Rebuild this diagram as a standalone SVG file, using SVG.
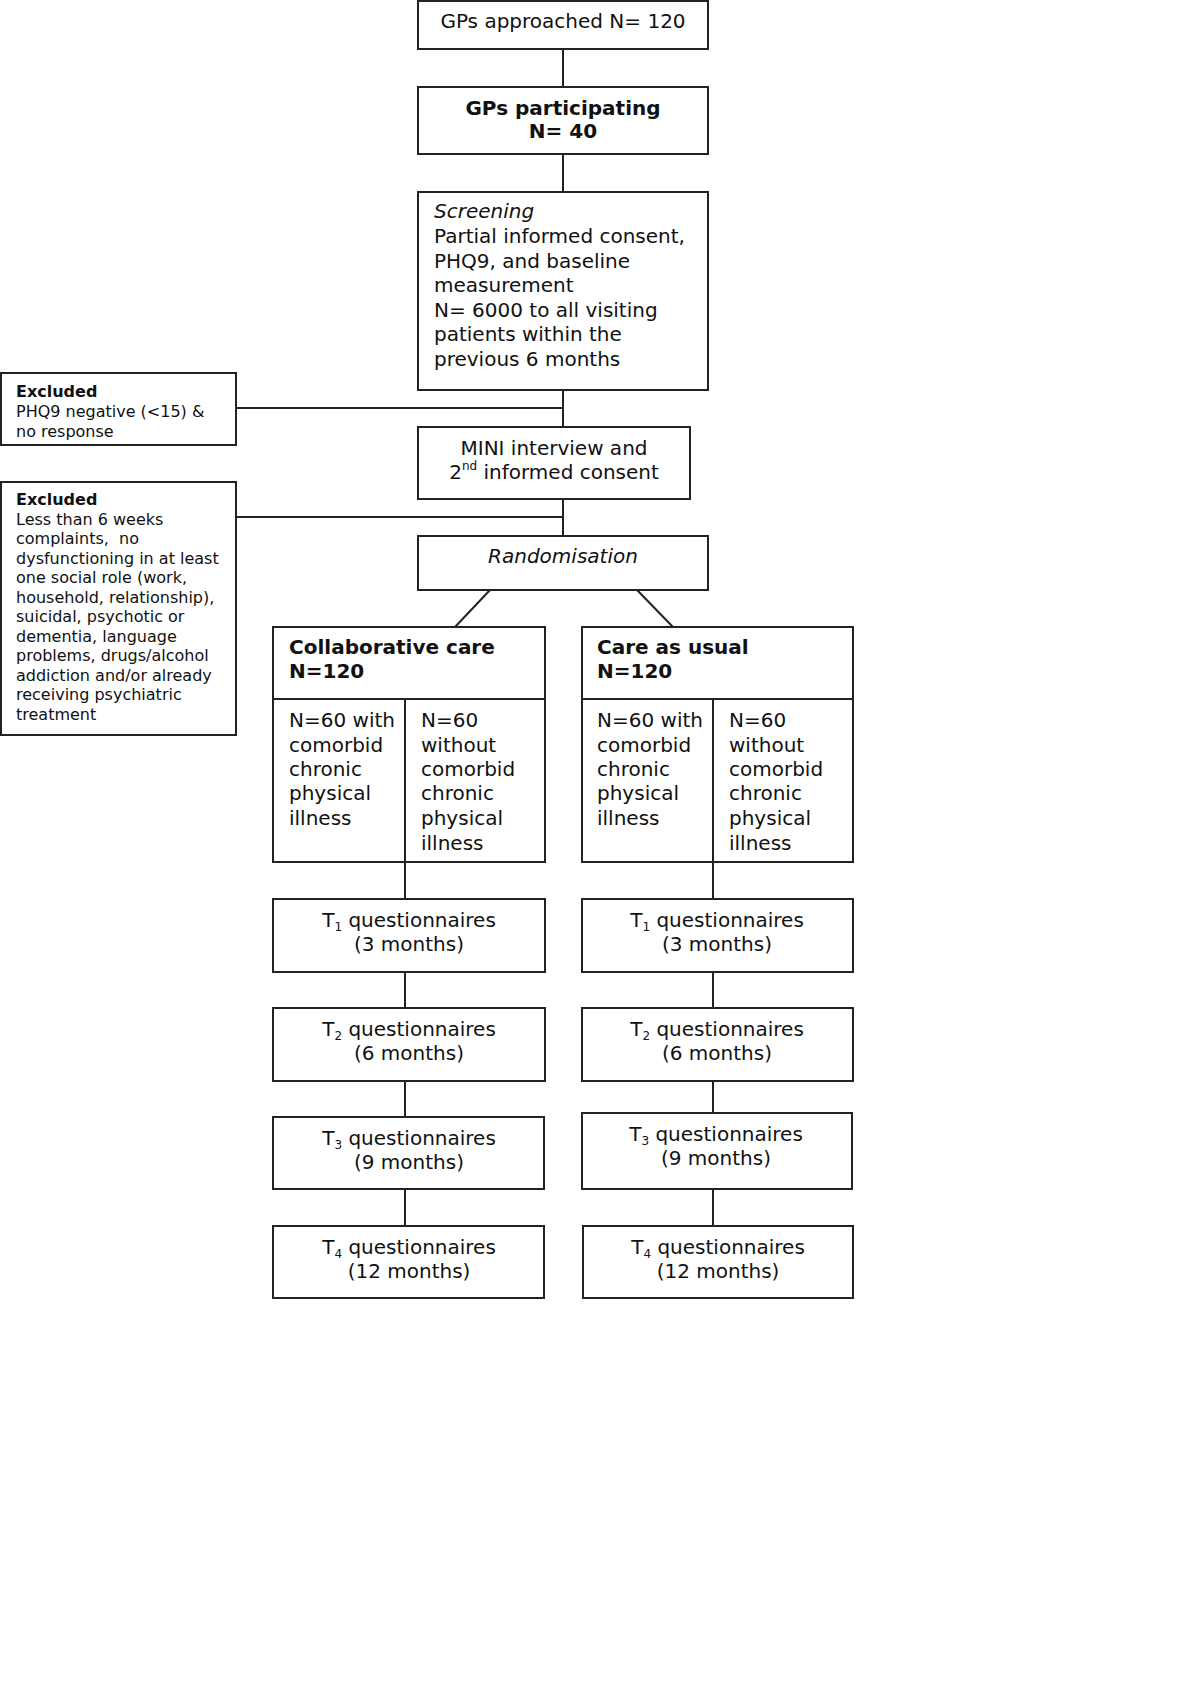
<svg xmlns="http://www.w3.org/2000/svg" width="1200" height="1698" viewBox="0 0 1200 1698">
<style>
  .box { fill: #ffffff; stroke: #222222; stroke-width: 2; }
  .ln { stroke: #222222; stroke-width: 2; fill: none; }
  text { font-family: "DejaVu Sans", Verdana, sans-serif; fill: #111111; }
  .t20 { font-size: 20px; }
  .t16 { font-size: 16px; }
  .b { font-weight: bold; }
  .i { font-style: italic; }
  .c { text-anchor: middle; }
  .sub { font-size: 12px; }
</style>
<defs>
  <clipPath id="clipEx1"><rect x="2" y="374" width="233" height="70"/></clipPath>
</defs>
<rect x="0" y="0" width="1200" height="1698" fill="#ffffff"/>

<g id="connectors">
  <line class="ln" x1="563" y1="49" x2="563" y2="87"/>
  <line class="ln" x1="563" y1="154" x2="563" y2="192"/>
  <line class="ln" x1="563" y1="390" x2="563" y2="427"/>
  <line class="ln" x1="236" y1="408" x2="563" y2="408"/>
  <line class="ln" x1="563" y1="499" x2="563" y2="536"/>
  <line class="ln" x1="236" y1="517" x2="563" y2="517"/>
  <line class="ln" x1="490" y1="590" x2="455" y2="627"/>
  <line class="ln" x1="637" y1="590" x2="673" y2="627"/>
  <line class="ln" x1="405" y1="862" x2="405" y2="899"/>
  <line class="ln" x1="405" y1="972" x2="405" y2="1008"/>
  <line class="ln" x1="405" y1="1081" x2="405" y2="1117"/>
  <line class="ln" x1="405" y1="1189" x2="405" y2="1226"/>
  <line class="ln" x1="713" y1="862" x2="713" y2="899"/>
  <line class="ln" x1="713" y1="972" x2="713" y2="1008"/>
  <line class="ln" x1="713" y1="1078" x2="713" y2="1116"/>
  <line class="ln" x1="713" y1="1189" x2="713" y2="1226"/>
</g>

<g id="gps-approached">
  <rect class="box" x="418" y="1" width="290" height="48"/>
  <text class="t20 c" x="563" y="28">GPs approached N= 120</text>
</g>

<g id="gps-participating">
  <rect class="box" x="418" y="87" width="290" height="67"/>
  <text class="t20 c b" x="563" y="115">GPs participating</text>
  <text class="t20 c b" x="563" y="138">N= 40</text>
</g>

<g id="screening">
  <rect class="box" x="418" y="192" width="290" height="198"/>
  <text class="t20 i" x="434" y="218">Screening</text>
  <text class="t20" x="434" y="243">Partial informed consent,</text>
  <text class="t20" x="434" y="268">PHQ9, and baseline</text>
  <text class="t20" x="434" y="292">measurement</text>
  <text class="t20" x="434" y="317">N= 6000 to all visiting</text>
  <text class="t20" x="434" y="341">patients within the</text>
  <text class="t20" x="434" y="366">previous 6 months</text>
</g>

<g id="excluded-1">
  <rect class="box" x="1" y="373" width="235" height="72"/>
  <g clip-path="url(#clipEx1)">
    <text class="t16 b" x="16" y="397">Excluded</text>
    <text class="t16" x="16" y="417">PHQ9 negative (&lt;15) &amp;</text>
    <text class="t16" x="16" y="437">no response</text>
  </g>
</g>

<g id="mini-interview">
  <rect class="box" x="418" y="427" width="272" height="72"/>
  <text class="t20 c" x="554" y="455">MINI interview and</text>
  <text class="t20 c" x="554" y="479">2<tspan font-size="12" dy="-9">nd</tspan><tspan dy="9"> informed consent</tspan></text>
</g>

<g id="excluded-2">
  <rect class="box" x="1" y="482" width="235" height="253"/>
  <text class="t16 b" x="16" y="505">Excluded</text>
  <text class="t16" x="16" y="525">Less than 6 weeks</text>
  <text class="t16" x="16" y="544" xml:space="preserve">complaints,  no</text>
  <text class="t16" x="16" y="564">dysfunctioning in at least</text>
  <text class="t16" x="16" y="583">one social role (work,</text>
  <text class="t16" x="16" y="603">household, relationship),</text>
  <text class="t16" x="16" y="622">suicidal, psychotic or</text>
  <text class="t16" x="16" y="642">dementia, language</text>
  <text class="t16" x="16" y="661">problems, drugs/alcohol</text>
  <text class="t16" x="16" y="681">addiction and/or already</text>
  <text class="t16" x="16" y="700">receiving psychiatric</text>
  <text class="t16" x="16" y="720">treatment</text>
</g>

<g id="randomisation">
  <rect class="box" x="418" y="536" width="290" height="54"/>
  <text class="t20 c i" x="563" y="563">Randomisation</text>
</g>

<g id="collaborative-care">
  <rect class="box" x="273" y="627" width="272" height="235"/>
  <line class="ln" x1="273" y1="699" x2="545" y2="699"/>
  <line class="ln" x1="405" y1="699" x2="405" y2="862"/>
  <text class="t20 b" x="289" y="654">Collaborative care</text>
  <text class="t20 b" x="289" y="678">N=120</text>
  <text class="t20" x="289" y="727">N=60 with</text>
  <text class="t20" x="289" y="752">comorbid</text>
  <text class="t20" x="289" y="776">chronic</text>
  <text class="t20" x="289" y="800">physical</text>
  <text class="t20" x="289" y="825">illness</text>
  <text class="t20" x="421" y="727">N=60</text>
  <text class="t20" x="421" y="752">without</text>
  <text class="t20" x="421" y="776">comorbid</text>
  <text class="t20" x="421" y="800">chronic</text>
  <text class="t20" x="421" y="825">physical</text>
  <text class="t20" x="421" y="850">illness</text>
</g>

<g id="care-as-usual">
  <rect class="box" x="582" y="627" width="271" height="235"/>
  <line class="ln" x1="582" y1="699" x2="853" y2="699"/>
  <line class="ln" x1="713" y1="699" x2="713" y2="862"/>
  <text class="t20 b" x="597" y="654">Care as usual</text>
  <text class="t20 b" x="597" y="678">N=120</text>
  <text class="t20" x="597" y="727">N=60 with</text>
  <text class="t20" x="597" y="752">comorbid</text>
  <text class="t20" x="597" y="776">chronic</text>
  <text class="t20" x="597" y="800">physical</text>
  <text class="t20" x="597" y="825">illness</text>
  <text class="t20" x="729" y="727">N=60</text>
  <text class="t20" x="729" y="752">without</text>
  <text class="t20" x="729" y="776">comorbid</text>
  <text class="t20" x="729" y="800">chronic</text>
  <text class="t20" x="729" y="825">physical</text>
  <text class="t20" x="729" y="850">illness</text>
</g>

<g id="cc-t1">
  <rect class="box" x="273" y="899" width="272" height="73"/>
  <text class="t20 c" x="409" y="927">T<tspan class="sub" dy="4">1</tspan><tspan dy="-4"> questionnaires</tspan></text>
  <text class="t20 c" x="409" y="951">(3 months)</text>
</g>
<g id="cc-t2">
  <rect class="box" x="273" y="1008" width="272" height="73"/>
  <text class="t20 c" x="409" y="1036">T<tspan class="sub" dy="4">2</tspan><tspan dy="-4"> questionnaires</tspan></text>
  <text class="t20 c" x="409" y="1060">(6 months)</text>
</g>
<g id="cc-t3">
  <rect class="box" x="273" y="1117" width="271" height="72"/>
  <text class="t20 c" x="409" y="1145">T<tspan class="sub" dy="4">3</tspan><tspan dy="-4"> questionnaires</tspan></text>
  <text class="t20 c" x="409" y="1169">(9 months)</text>
</g>
<g id="cc-t4">
  <rect class="box" x="273" y="1226" width="271" height="72"/>
  <text class="t20 c" x="409" y="1254">T<tspan class="sub" dy="4">4</tspan><tspan dy="-4"> questionnaires</tspan></text>
  <text class="t20 c" x="409" y="1278">(12 months)</text>
</g>

<g id="cau-t1">
  <rect class="box" x="582" y="899" width="271" height="73"/>
  <text class="t20 c" x="717" y="927">T<tspan class="sub" dy="4">1</tspan><tspan dy="-4"> questionnaires</tspan></text>
  <text class="t20 c" x="717" y="951">(3 months)</text>
</g>
<g id="cau-t2">
  <rect class="box" x="582" y="1008" width="271" height="73"/>
  <text class="t20 c" x="717" y="1036">T<tspan class="sub" dy="4">2</tspan><tspan dy="-4"> questionnaires</tspan></text>
  <text class="t20 c" x="717" y="1060">(6 months)</text>
</g>
<g id="cau-t3">
  <rect class="box" x="582" y="1113" width="270" height="76"/>
  <text class="t20 c" x="716" y="1141">T<tspan class="sub" dy="4">3</tspan><tspan dy="-4"> questionnaires</tspan></text>
  <text class="t20 c" x="716" y="1165">(9 months)</text>
</g>
<g id="cau-t4">
  <rect class="box" x="583" y="1226" width="270" height="72"/>
  <text class="t20 c" x="718" y="1254">T<tspan class="sub" dy="4">4</tspan><tspan dy="-4"> questionnaires</tspan></text>
  <text class="t20 c" x="718" y="1278">(12 months)</text>
</g>
</svg>
